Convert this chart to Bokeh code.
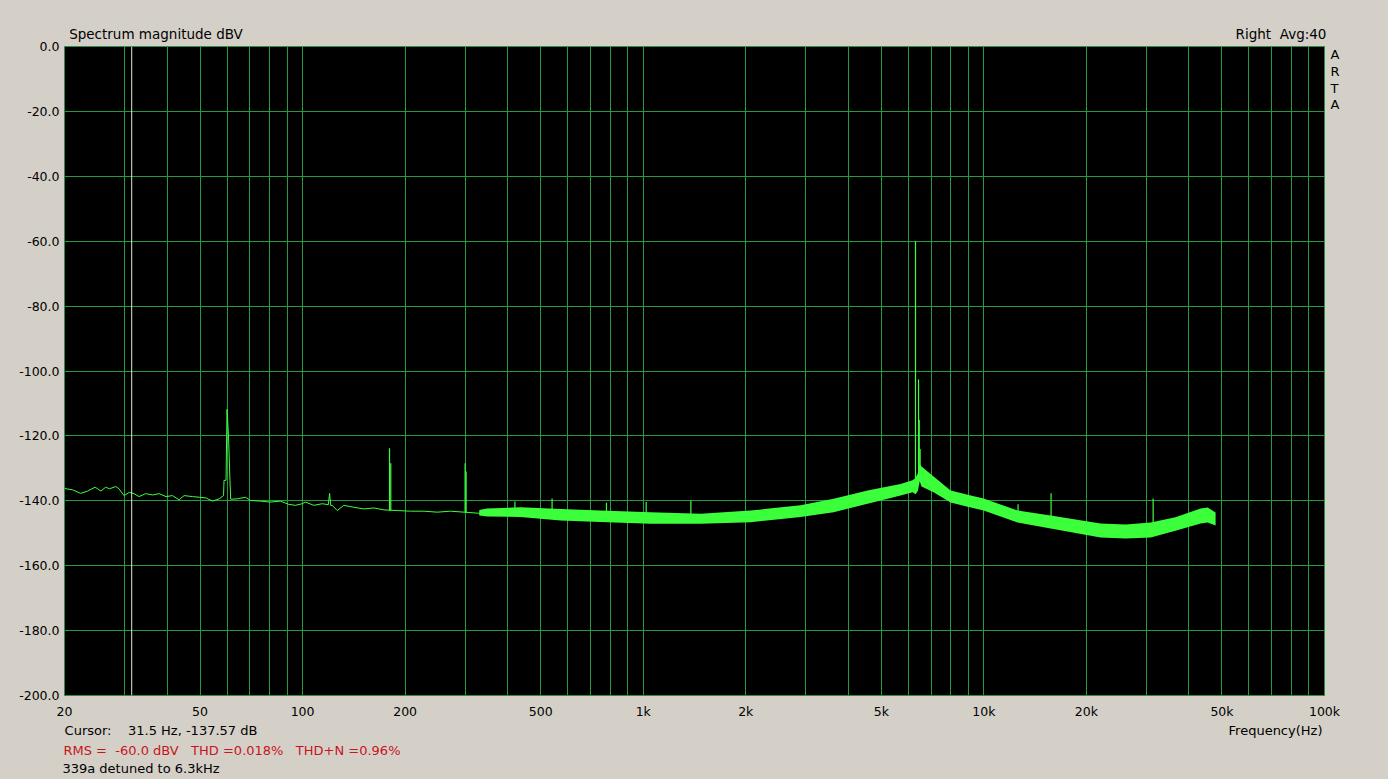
from bokeh.plotting import figure
from bokeh.models import Range1d, FixedTicker, PrintfTickFormatter, Span, LinearAxis, LinearScale
from bokeh.embed import file_html
from bokeh.resources import INLINE

# ---------------- data ----------------
x_ticks = [20, 50, 100, 200, 500, 1000, 2000, 5000, 10000, 20000, 50000, 100000]
x_tick_labels = ["20", "50", "100", "200", "500", "1k", "2k", "5k", "10k", "20k", "50k", "100k"]
y_ticks = [0, -20, -40, -60, -80, -100, -120, -140, -160, -180, -200]
grid_freqs = [20, 30, 40, 50, 60, 70, 80, 90,
              100, 200, 300, 400, 500, 600, 700, 800, 900,
              1000, 2000, 3000, 4000, 5000, 6000, 7000, 8000, 9000,
              10000, 20000, 30000, 40000, 50000, 60000, 70000, 80000, 90000, 100000]
cursor_freq = 31.5

# low-frequency part of the trace (thin line), Hz / dBV
lf_freq = [20.0, 20.2, 21.1, 22.3, 23.4, 24.6, 25.6, 26.4, 27.1, 28.3, 28.9, 29.9,
           31.0, 32.0, 33.1, 34.6, 36.3, 37.9, 39.7, 41.5, 43.4, 44.9, 47.5, 49.7,
           52.0, 54.4, 56.9, 58.6, 58.8, 59.6, 60.0, 60.6, 61.2, 61.5, 64.3, 68.0,
           70.3, 75.2, 80.5, 86.1, 91.1, 95.3, 99.7, 102.0, 107.9, 114.2, 119.0, 120.0,
           121.0, 122.2, 126.4, 132.1, 141.4, 151.3, 161.9, 173.2, 189.6, 207.5, 227.0,
           248.5, 271.9, 325.6, 348.4]
lf_db = [-136.0, -136.3, -136.6, -137.7, -137.0, -135.8, -137.0, -135.8, -136.3, -135.6, -136.3, -138.4,
         -137.4, -137.8, -138.7, -137.8, -138.2, -137.8, -138.7, -138.4, -139.7, -138.4, -138.7, -138.9,
         -139.1, -140.1, -139.4, -138.4, -133.7, -133.7, -111.8, -120.0, -133.7, -139.5, -139.4, -138.9,
         -139.9, -140.1, -140.4, -140.1, -141.1, -141.4, -140.9, -140.4, -141.4, -140.9, -141.2, -137.7,
         -141.5, -141.4, -143.0, -141.4, -142.0, -142.5, -142.2, -142.8, -143.0, -143.2, -143.2,
         -143.5, -143.2, -143.8, -144.0]

# noise band (upper / lower envelope), Hz / dBV
band_freq = [330, 348, 436, 572, 749, 1051, 1474, 2066, 2897, 3622, 4557, 5694, 6176,
             6300, 6400, 6480, 6560, 7119, 7988, 8960, 9980, 12560, 15700, 22000,
             26100, 30900, 36500, 43300, 45400, 47900]
band_hi = [-142.8, -142.4, -142.0, -142.5, -143.0, -143.5, -144.0, -143.0, -141.4, -139.4,
           -136.8, -134.8, -133.7, -133.0, -131.5, -128.5, -129.4, -132.5, -136.8, -138.1,
           -139.3, -143.0, -144.5, -147.0, -147.3, -146.7, -145.1, -142.4, -142.1, -143.6]
band_lo = [-144.5, -144.8, -145.0, -146.1, -146.5, -147.1, -147.1, -146.6, -145.0, -143.5,
           -140.9, -138.4, -137.4, -138.0, -137.0, -134.0, -135.6, -137.4, -140.5, -141.8,
           -143.0, -146.7, -148.5, -151.3, -151.6, -151.3, -149.2, -147.0, -146.7, -147.6]

# discrete spectral lines, Hz / dBV
spike_freq = [180, 181.5, 300, 302, 420, 540, 780, 1020, 1380, 6300, 6430, 6460, 6500, 12600, 15750, 31400]
spike_top = [-123.8, -128.4, -128.4, -131.0, -140.2, -139.3, -140.6, -140.4, -139.9, -60.1, -102.6,
             -115.0, -124.0, -141.1, -137.7, -139.3]
spike_base = [-143.0, -143.0, -143.6, -143.6, -143.5, -144.5, -145.5, -146.0, -146.0, -133.7, -131.0,
              -131.0, -131.0, -145.0, -146.0, -148.0]

# texts around the plot (runs of spaces kept as no-break spaces)
NB = "\u00a0"
top_texts = ["Spectrum magnitude dBV", "Right" + NB * 2 + "Avg:40"]
side_letters = ["A", "R", "T", "A"]
row1_texts = ["Cursor:" + NB * 4 + "31.5 Hz, -137.57 dB", "Frequency(Hz)"]
row2_texts = ["RMS =" + NB * 2 + "-60.0 dBV" + NB * 3 + "THD =0.018%" + NB * 3 + "THD+N =0.96%"]
row3_texts = ["339a detuned to 6.3kHz"]

# ---------------- styling ----------------
BG = "#d4d0c8"
GRID = "#259a40"
TRACE = "#3cff3c"
FONT = "DejaVu Sans"
W, H = 1388, 779
FL, FR, FT, FB = 64, 1324, 46, 695   # frame edges in page pixels

p = figure(width=W, height=H, x_axis_type="log",
           x_range=Range1d(20, 100000), y_range=Range1d(-200, 0),
           output_backend="svg", toolbar_location=None,
           min_border_left=FL, min_border_right=W - FR, min_border_top=FT, min_border_bottom=H - FB)
p.background_fill_color = "black"
p.border_fill_color = BG
p.outline_line_color = "#2e8b4e"
p.outline_line_width = 1

# linear pixel-unit helper ranges, used only to place the surrounding texts
p.extra_x_ranges = {"px": Range1d(FL, FR)}
p.extra_x_scales = {"px": LinearScale()}
p.extra_y_ranges = {"py": Range1d(FB, FT)}
p.extra_y_scales = {"py": LinearScale()}

p.xaxis.ticker = FixedTicker(ticks=x_ticks, minor_ticks=[])
p.xaxis.major_label_overrides = {t: l for t, l in zip(x_ticks, x_tick_labels)}
p.yaxis.ticker = FixedTicker(ticks=y_ticks, minor_ticks=[])
p.yaxis.formatter = PrintfTickFormatter(format="%.1f")
for ax in (p.xaxis, p.yaxis):
    ax.axis_line_color = None
    ax.major_tick_line_color = None
    ax.minor_tick_line_color = None
    ax.major_tick_out = 0
    ax.minor_tick_out = 0
    ax.major_label_text_font = FONT
    ax.major_label_text_font_size = "12.5px"
    ax.major_label_text_color = "black"
p.xaxis.major_label_standoff = 8
p.yaxis.major_label_standoff = 5

p.xgrid.ticker = FixedTicker(ticks=grid_freqs)
p.ygrid.ticker = FixedTicker(ticks=y_ticks)
for g in (p.xgrid, p.ygrid):
    g.grid_line_color = GRID
    g.grid_line_width = 1
    g.grid_line_alpha = 1.0

p.add_layout(Span(location=cursor_freq, dimension="height", line_color="#e8e8c8", line_width=1))

p.varea(x=band_freq, y1=band_lo, y2=band_hi, fill_color=TRACE)
p.line(lf_freq, lf_db, line_color=TRACE, line_width=1)
p.segment(x0=spike_freq, y0=spike_base, x1=spike_freq, y1=spike_top, line_color=TRACE, line_width=1.2)


def text_axis(side, centers, labels, standoff, size="13px", color="black"):
    if side in ("above", "below"):
        ax = LinearAxis(x_range_name="px")
    else:
        ax = LinearAxis(y_range_name="py")
    ax.ticker = FixedTicker(ticks=centers, minor_ticks=[])
    ax.major_label_overrides = {c: t for c, t in zip(centers, labels)}
    ax.axis_line_color = None
    ax.major_tick_line_color = None
    ax.minor_tick_line_color = None
    ax.major_tick_out = 0
    ax.major_tick_in = 0
    ax.minor_tick_out = 0
    ax.minor_tick_in = 0
    ax.major_label_standoff = standoff
    ax.major_label_text_font = FONT
    ax.major_label_text_font_size = size
    ax.major_label_text_color = color
    p.add_layout(ax, side)


# centres (page pixels) of the texts as measured on the reference
text_axis("above", [155.5, 1280.5], top_texts, 5, size="13.5px")
text_axis("right", [53.5, 71.0, 87.5, 104.0], side_letters, 6)
text_axis("below", [160.5, 1275.0], row1_texts, 1)
text_axis("below", [231.5], row2_texts, 2, color="#c8141e")
text_axis("below", [140.5], row3_texts, 0)

html = file_html(p, INLINE)
html = html.replace("<head>", "<head><style>html, body {background-color: #d4d0c8;}</style>", 1)
open("out.html", "w").write(html)
